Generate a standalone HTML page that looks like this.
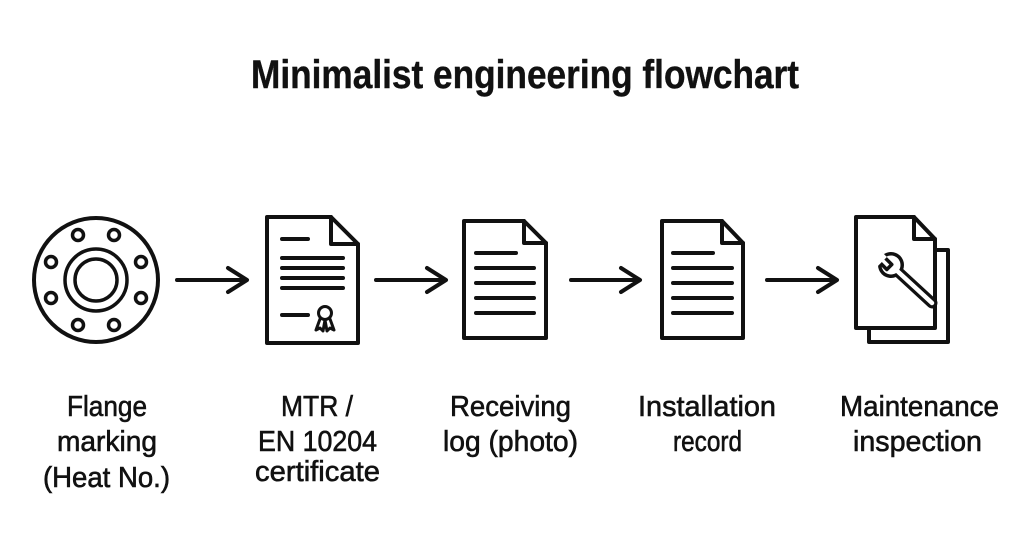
<!DOCTYPE html>
<html><head><meta charset="utf-8"><style>
html,body{margin:0;padding:0;background:#fff;}
svg{display:block;}
text{font-family:"Liberation Sans",sans-serif;fill:#111;stroke:#111;stroke-width:0.6;}
</style></head><body>
<svg width="1024" height="559" viewBox="0 0 1024 559" xmlns="http://www.w3.org/2000/svg">
<rect width="1024" height="559" fill="#fff"/>
<text x="251" y="88" font-size="40" font-weight="bold" textLength="548" lengthAdjust="spacingAndGlyphs" style="stroke-width:0.4">Minimalist engineering flowchart</text>

<g fill="none" stroke="#111" stroke-width="4" stroke-linejoin="round" stroke-linecap="round">
<!-- flange -->
<circle cx="96" cy="280" r="62"/>
<circle cx="96" cy="280" r="31" stroke-width="3.5"/>
<circle cx="96" cy="280" r="21" stroke-width="3.5"/>
<circle cx="78" cy="235" r="5.5" stroke-width="3.5"/><circle cx="114" cy="235" r="5.5" stroke-width="3.5"/>
<circle cx="141" cy="262" r="5.5" stroke-width="3.5"/><circle cx="141" cy="298" r="5.5" stroke-width="3.5"/>
<circle cx="114" cy="325" r="5.5" stroke-width="3.5"/><circle cx="78" cy="325" r="5.5" stroke-width="3.5"/>
<circle cx="51" cy="298" r="5.5" stroke-width="3.5"/><circle cx="51" cy="262" r="5.5" stroke-width="3.5"/>

<!-- arrows -->
<path d="M177 280H246M228 268L247 280L228 292"/>
<path d="M376 280H445M427 268L446 280L427 292"/>
<path d="M571 280H639M621 268L640 280L621 292"/>
<path d="M767 280H836M818 268L837 280L818 292"/>

<!-- certificate -->
<path d="M267 217H331L358 244V343H267Z"/>
<path d="M331 217V244H358"/>
<path d="M282 239H308M282 258H343M282 268H343M282 278H343M282 288H343M282 315H308"/>
<circle cx="325" cy="313" r="6.5" stroke-width="3"/>
<path d="M320 319L316 330L320 328L323 331L325 320M330 319L334 330L330 328L327 331L325 320" stroke-width="3"/>

<!-- doc 2 -->
<path d="M464 221H524L546 243V338H464Z"/>
<path d="M524 221V243H546"/>
<path d="M476 253H516M476 268H534M476 283H534M476 298H534M476 313H534"/>

<!-- doc 3 -->
<path d="M662 221H722L743 243V338H662Z"/>
<path d="M722 221V243H743"/>
<path d="M673 253H713M673 268H732M673 283H732M673 298H732M673 313H732"/>

<!-- doc 5 -->
<path d="M935 250H948V342H869V328"/>
<path d="M856 217H914L935 239V328H856Z" fill="#fff"/>
<path d="M914 217V239H935"/>
</g>
<!-- wrench -->
<g>
<line x1="894" y1="268" x2="932" y2="303" stroke="#111" stroke-width="11" stroke-linecap="round"/>
<circle cx="891" cy="265" r="13" fill="#111"/>
<line x1="894" y1="268" x2="932" y2="303" stroke="#fff" stroke-width="4.5" stroke-linecap="round"/>
<circle cx="891" cy="265" r="9.5" fill="#fff"/>
<rect x="876" y="258" width="16" height="7" fill="#fff" stroke="#111" stroke-width="3.5" stroke-linejoin="round" transform="rotate(45 884 261)"/>
<rect x="870" y="250" width="14" height="14" fill="#fff" transform="rotate(45 877 257)"/>
</g>

<g font-size="29">
<text x="67" y="416" textLength="80" lengthAdjust="spacingAndGlyphs">Flange</text>
<text x="57" y="451" textLength="100" lengthAdjust="spacingAndGlyphs">marking</text>
<text x="43" y="487" textLength="127" lengthAdjust="spacingAndGlyphs">(Heat No.)</text>

<text x="281" y="416" textLength="72" lengthAdjust="spacingAndGlyphs">MTR /</text>
<text x="258" y="451" textLength="119" lengthAdjust="spacingAndGlyphs">EN 10204</text>
<text x="255" y="481" textLength="125" lengthAdjust="spacingAndGlyphs">certificate</text>

<text x="450" y="416" textLength="121" lengthAdjust="spacingAndGlyphs">Receiving</text>
<text x="443" y="451" textLength="135" lengthAdjust="spacingAndGlyphs">log (photo)</text>

<text x="638" y="416" textLength="138" lengthAdjust="spacingAndGlyphs">Installation</text>
<text x="673" y="451" textLength="69" lengthAdjust="spacingAndGlyphs">record</text>

<text x="840" y="416" textLength="159" lengthAdjust="spacingAndGlyphs">Maintenance</text>
<text x="853" y="451" textLength="129" lengthAdjust="spacingAndGlyphs">inspection</text>
</g>
</svg>
</body></html>
